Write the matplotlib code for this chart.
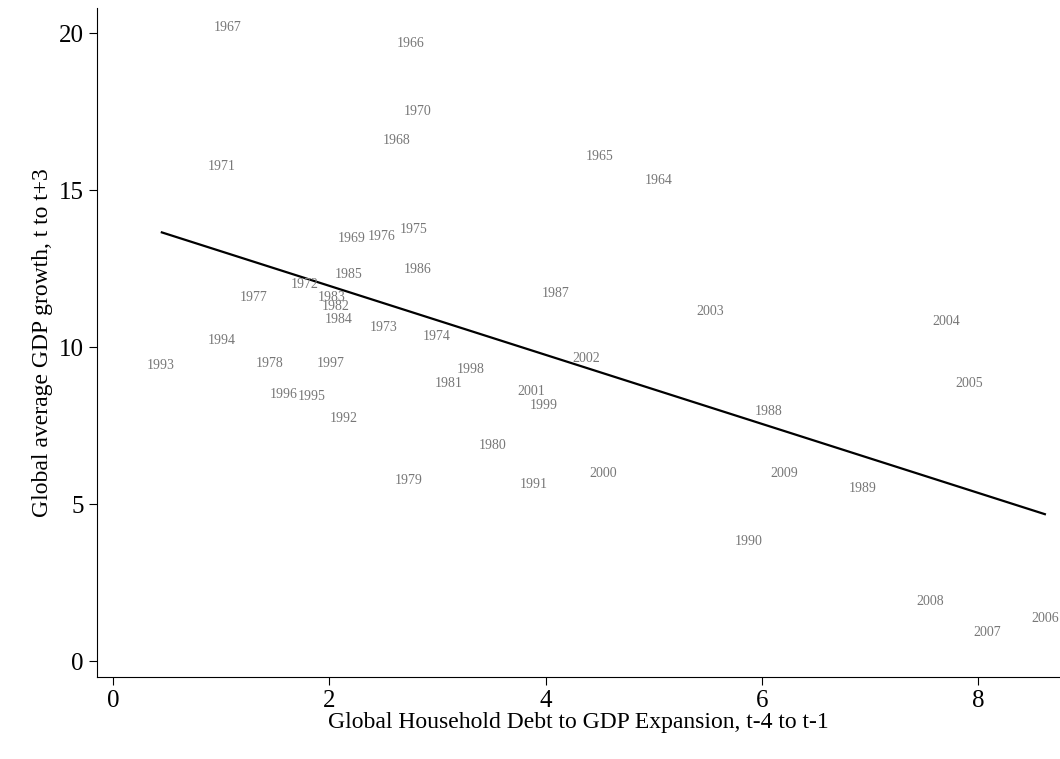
import matplotlib
matplotlib.use("Agg")
import matplotlib.pyplot as plt

plt.rcParams['font.family'] = ['Liberation Serif', 'DejaVu Serif']

years = [1967, 1966, 1970, 1968, 1971, 1965, 1964, 1975, 1976, 1969, 1985, 1986,
         1987, 1972, 1977, 1983, 1982, 1984, 1973, 1974, 2003, 2004, 1994, 1993,
         1978, 1997, 1998, 2002, 1981, 2005, 1996, 1995, 2001, 1999, 1992, 1988,
         1980, 2009, 2000, 1979, 1991, 1989, 1990, 2008, 2007, 2006]
debt = [1.06, 2.75, 2.82, 2.62, 1.00, 4.50, 5.05, 2.78, 2.48, 2.21, 2.18, 2.82,
        4.09, 1.77, 1.30, 2.02, 2.06, 2.09, 2.50, 2.99, 5.52, 7.71, 1.00, 0.44,
        1.45, 2.01, 3.31, 4.38, 3.10, 7.92, 1.58, 1.84, 3.87, 3.98, 2.13, 6.06,
        3.51, 6.21, 4.53, 2.73, 3.89, 6.93, 5.88, 7.56, 8.09, 8.62]
growth = [20.19, 19.68, 17.52, 16.59, 15.76, 16.08, 15.32, 13.76, 13.54, 13.47, 12.32, 12.48,
          11.72, 12.01, 11.59, 11.59, 11.31, 10.89, 10.64, 10.35, 11.15, 10.83, 10.22, 9.43,
          9.49, 9.49, 9.30, 9.65, 8.85, 8.85, 8.50, 8.44, 8.60, 8.15, 7.74, 7.96,
          6.88, 5.99, 5.99, 5.76, 5.64, 5.51, 3.82, 1.91, 0.92, 1.37]

# fitted line
fit_x = [0.45, 8.62]
fit_y = [13.66, 4.68]

fig = plt.figure(figsize=(10.6, 7.59), dpi=100)
ax = fig.add_axes([0.0915, 0.108, 0.9085, 0.881])

for yr, x, y in zip(years, debt, growth):
    ax.text(x, y, str(yr), fontsize=10, color='#777777', ha='center', va='center')
ax.plot(fit_x, fit_y, color='black', lw=1.6)

ax.set_xlim(-0.15, 8.76)
ax.set_ylim(-0.51, 20.8)
ax.set_xticks([0, 2, 4, 6, 8])
ax.set_yticks([0, 5, 10, 15, 20])
ax.tick_params(labelsize=18, length=6)
ax.spines['top'].set_visible(False)
ax.spines['right'].set_visible(False)
ax.set_xlabel("Global Household Debt to GDP Expansion, t-4 to t-1", fontsize=17, labelpad=0)
ax.set_ylabel("Global average GDP growth, t to t+3", fontsize=17, labelpad=4)

fig.savefig("out.png", dpi=100)
